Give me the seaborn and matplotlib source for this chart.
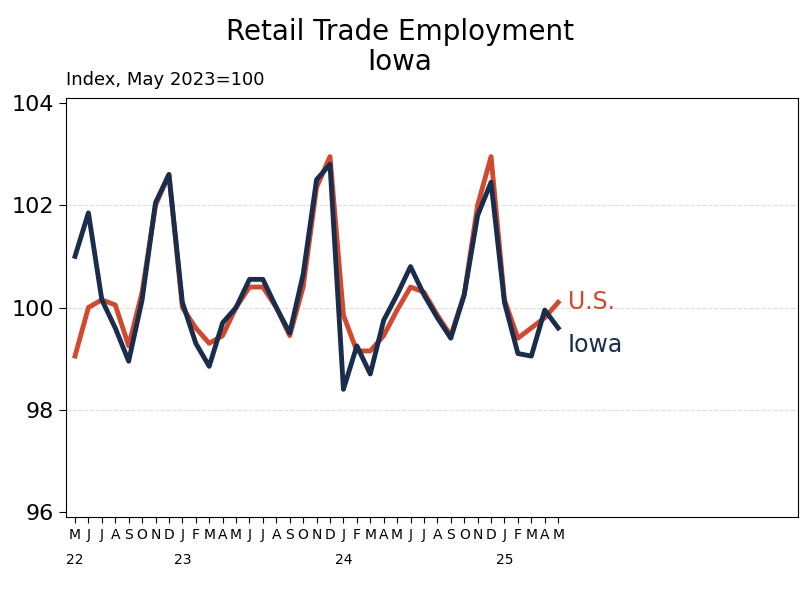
import matplotlib
matplotlib.use('Agg')
import matplotlib.pyplot as plt
import seaborn as sns
import pandas as pd

# Monthly index values, May 2022 - May 2025
iowa = [101.0, 101.85, 100.15, 99.6, 98.95, 100.15, 102.05, 102.6,
        100.1, 99.3, 98.85, 99.7, 100.0, 100.55, 100.55, 100.0, 99.5, 100.65, 102.5, 102.8,
        98.4, 99.25, 98.7, 99.75, 100.25, 100.8, 100.25, 99.8, 99.4, 100.25, 101.8, 102.45,
        100.1, 99.1, 99.05, 99.95, 99.6]
us = [99.05, 100.0, 100.15, 100.05, 99.25, 100.3, 102.0, 102.6,
      100.0, 99.6, 99.3, 99.45, 100.0, 100.4, 100.4, 100.0, 99.45, 100.4, 102.35, 102.95,
      99.85, 99.15, 99.15, 99.45, 99.95, 100.4, 100.3, 99.85, 99.45, 100.25, 102.0, 102.95,
      100.15, 99.4, 99.6, 99.8, 100.1]
month_letters = list('MJJASOND') + list('JFMAMJJASOND') * 2 + list('JFMAM')
year_labels = {0: '22', 8: '23', 20: '24', 32: '25'}

df = pd.DataFrame({'t': range(len(iowa)), 'Iowa': iowa, 'U.S.': us})

fig = plt.figure(figsize=(8, 6), dpi=100)
ax = fig.add_axes([0.0825, 0.138, 0.9155, 0.699])
red, navy = '#d04a2f', '#1b2d4d'
sns.lineplot(data=df, x='t', y='U.S.', color=red, linewidth=3.5, ax=ax)
sns.lineplot(data=df, x='t', y='Iowa', color=navy, linewidth=3.5, ax=ax)

ax.set_xlim(-0.67, 53.9)
ax.set_ylim(95.9, 104.1)
ax.set_yticks([96, 98, 100, 102, 104])
ax.tick_params(axis='y', labelsize=16, length=5)
for y in [98, 100, 102]:
    ax.axhline(y, color='#dddddd', linestyle='--', linewidth=0.8, zorder=0)
ax.set_xticks(range(len(month_letters)))
ax.set_xticklabels(month_letters, fontsize=10)
ax.tick_params(axis='x', length=4)
for i, lab in year_labels.items():
    ax.text(i, -0.085, lab, transform=ax.get_xaxis_transform(), ha='center', va='top', fontsize=10)
ax.set_xlabel('')
ax.set_ylabel('')

ax.text(36.7, us[-1], 'U.S.', color=red, fontsize=17, va='center')
ax.text(36.7, 99.27, 'Iowa', color=navy, fontsize=17, va='center')

fig.text(0.5, 0.97, 'Retail Trade Employment\nIowa', ha='center', va='top', fontsize=20, linespacing=1.1)
fig.text(0.0825, 0.852, 'Index, May 2023=100', ha='left', va='bottom', fontsize=13)

plt.savefig('out.png')
